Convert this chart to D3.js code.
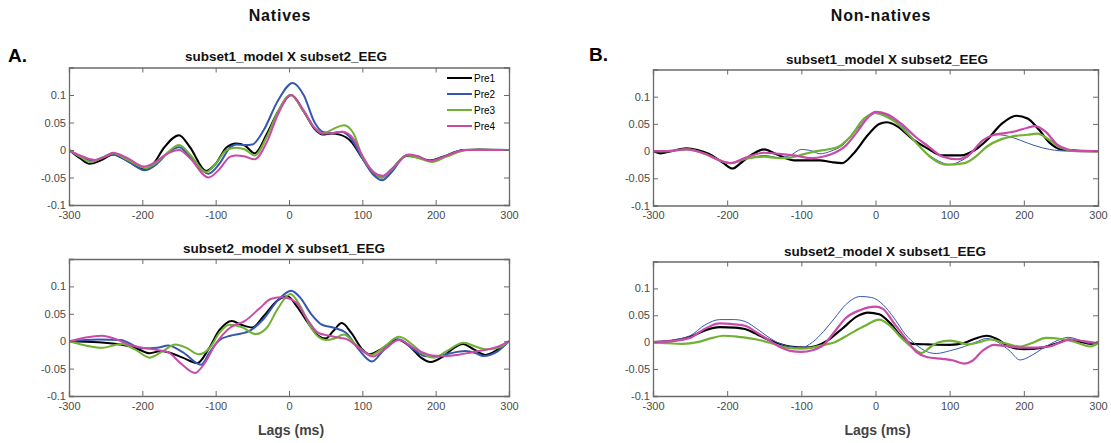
<!DOCTYPE html>
<html>
<head>
<meta charset="utf-8">
<script src="https://cdn.jsdelivr.net/npm/d3@7"></script>
<style>
  html, body { margin: 0; padding: 0; background: #fff; }
  svg { display: block; }
  .tick-label { font-family: "Liberation Sans Narrow", "Arial Narrow", "Liberation Sans", Arial, sans-serif; font-size: 11px; fill: #4a4a4a; }
  .sub-title { font-family: "Liberation Sans", Arial, Helvetica, sans-serif; font-weight: bold; font-size: 13.5px; fill: #111; }
  .group-title { font-family: "Liberation Sans", Arial, Helvetica, sans-serif; font-weight: bold; font-size: 16px; letter-spacing: 0.8px; fill: #111; }
  .panel-letter { font-family: "Liberation Sans", Arial, Helvetica, sans-serif; font-weight: bold; font-size: 19px; fill: #000; }
  .x-title { font-family: "Liberation Sans", Arial, Helvetica, sans-serif; font-weight: bold; font-size: 14px; fill: #444; }
  .legend-label { font-family: "Liberation Sans Narrow", "Arial Narrow", "Liberation Sans", Arial, sans-serif; font-size: 10px; fill: #000; }
</style>
</head>
<body>
<svg id="chart" width="1111" height="443"></svg>
<script>
// Cross-correlation (model x EEG) as a function of lag, four pre-test sessions.
const seriesNames = ["Pre1", "Pre2", "Pre3", "Pre4"];
const seriesColors = ["#000000", "#3557b0", "#6fb132", "#c94aa9"];
const xTicks = [-300, -200, -100, 0, 100, 200, 300];
const yTicks = [-0.1, -0.05, 0, 0.05, 0.1];
const yTickLabels = ["-0.1", "-0.05", "0", "0.05", "0.1"];
const xTickLabels = ["-300", "-200", "-100", "0", "100", "200", "300"];
const groupTitles = ["Natives", "Non-natives"];
const panelLetters = ["A.", "B."];
const subTitles = ["subset1_model X subset2_EEG", "subset2_model X subset1_EEG"];

// Natives, subset1_model X subset2_EEG  — [lag (ms), r]
const natS1Pre1 = [[-300,0],[-285,-0.015],[-272,-0.025],[-255,-0.018],[-240,-0.008],[-220,-0.02],[-198,-0.035],[-185,-0.025],[-170,0.005],[-150,0.027],[-135,0.005],[-113,-0.038],[-100,-0.025],[-85,0.005],[-72,0.012],[-60,0.008],[-47,-0.006],[-30,0.03],[-15,0.07],[3,0.1],[20,0.07],[35,0.038],[46,0.028],[58,0.03],[69,0.028],[85,0.015],[100,-0.015],[115,-0.042],[126,-0.05],[140,-0.035],[160,-0.011],[175,-0.013],[192,-0.019],[210,-0.012],[238,0],[260,0.001],[300,0]];
const natS1Pre2 = [[-300,0],[-285,-0.012],[-268,-0.02],[-255,-0.014],[-240,-0.008],[-220,-0.02],[-197,-0.037],[-180,-0.025],[-165,-0.005],[-150,0.005],[-135,-0.012],[-110,-0.043],[-95,-0.025],[-80,0.005],[-72,0.01],[-60,0.009],[-50,0.01],[-35,0.035],[-15,0.09],[5,0.122],[20,0.1],[35,0.05],[46,0.033],[58,0.031],[72,0.033],[85,0.02],[100,-0.015],[115,-0.045],[127,-0.055],[140,-0.04],[160,-0.01],[175,-0.012],[192,-0.02],[210,-0.013],[240,0],[300,0]];
const natS1Pre3 = [[-300,0],[-285,-0.012],[-270,-0.022],[-255,-0.014],[-240,-0.006],[-220,-0.018],[-195,-0.033],[-180,-0.022],[-165,-0.004],[-150,0.009],[-135,-0.008],[-113,-0.04],[-100,-0.025],[-85,0],[-72,0.004],[-60,0.001],[-47,-0.01],[-30,0.025],[-15,0.07],[2,0.1],[20,0.07],[35,0.04],[46,0.03],[60,0.038],[75,0.045],[88,0.03],[100,-0.012],[115,-0.04],[126,-0.05],[140,-0.036],[160,-0.01],[175,-0.014],[195,-0.022],[215,-0.012],[245,0],[300,0]];
const natS1Pre4 = [[-300,0],[-285,-0.01],[-265,-0.018],[-250,-0.012],[-240,-0.005],[-220,-0.015],[-198,-0.03],[-185,-0.024],[-165,-0.006],[-150,0],[-135,-0.015],[-110,-0.05],[-95,-0.035],[-80,-0.012],[-72,-0.01],[-60,-0.012],[-47,-0.017],[-30,0.015],[-15,0.065],[3,0.1],[20,0.072],[35,0.04],[46,0.03],[60,0.031],[73,0.033],[88,0.02],[100,-0.01],[115,-0.04],[128,-0.047],[140,-0.035],[163,-0.008],[175,-0.011],[193,-0.02],[210,-0.013],[240,0],[300,0]];

// Natives, subset2_model X subset1_EEG
const natS2Pre1 = [[-300,0],[-260,-0.002],[-230,-0.006],[-210,-0.012],[-190,-0.022],[-175,-0.018],[-165,-0.02],[-145,-0.03],[-125,-0.04],[-110,-0.015],[-95,0.02],[-78,0.037],[-65,0.03],[-50,0.025],[-35,0.045],[-15,0.075],[-2,0.082],[10,0.065],[25,0.035],[40,0.01],[50,0.005],[60,0.018],[72,0.033],[85,0.015],[100,-0.015],[110,-0.024],[125,-0.015],[148,0.003],[165,-0.01],[180,-0.03],[193,-0.038],[210,-0.028],[225,-0.012],[237,-0.005],[252,-0.015],[268,-0.025],[285,-0.015],[300,0]];
const natS2Pre2 = [[-300,0],[-260,0.003],[-230,0.002],[-200,-0.013],[-180,-0.012],[-165,-0.008],[-145,-0.02],[-120,-0.043],[-108,-0.02],[-95,0.002],[-80,0.01],[-65,0.014],[-55,0.018],[-35,0.04],[-15,0.075],[3,0.092],[15,0.08],[30,0.05],[45,0.03],[60,0.025],[78,0.015],[95,-0.015],[113,-0.037],[130,-0.015],[150,0.003],[170,-0.015],[185,-0.027],[200,-0.028],[220,-0.022],[240,-0.018],[255,-0.022],[265,-0.027],[285,-0.018],[300,0]];
const natS2Pre3 = [[-300,0],[-280,-0.007],[-255,-0.012],[-228,-0.005],[-210,-0.015],[-190,-0.03],[-172,-0.018],[-155,-0.006],[-140,-0.012],[-123,-0.024],[-108,-0.012],[-95,0.015],[-82,0.03],[-65,0.026],[-45,0.013],[-30,0.025],[-15,0.06],[2,0.086],[15,0.065],[30,0.025],[40,0.008],[50,0.002],[62,0.005],[75,0.012],[90,-0.005],[112,-0.025],[130,-0.01],[150,0.008],[170,-0.008],[185,-0.025],[198,-0.03],[215,-0.018],[238,-0.003],[255,-0.01],[270,-0.015],[285,-0.012],[300,0]];
const natS2Pre4 = [[-300,0],[-280,0.006],[-255,0.01],[-235,0.003],[-215,-0.008],[-200,-0.012],[-180,-0.016],[-165,-0.02],[-148,-0.04],[-128,-0.058],[-115,-0.04],[-100,-0.005],[-80,0.025],[-60,0.037],[-40,0.06],[-25,0.077],[-12,0.08],[0,0.078],[10,0.07],[25,0.04],[40,0.015],[55,0.01],[70,0.006],[80,0.003],[95,-0.012],[115,-0.028],[130,-0.015],[150,0.002],[170,-0.012],[185,-0.022],[195,-0.026],[215,-0.027],[230,-0.025],[250,-0.02],[270,-0.015],[285,-0.01],[300,0]];

// Non-natives, subset1_model X subset2_EEG
const nonS1Pre1 = [[-300,0],[-290,-0.004],[-275,0],[-255,0.005],[-240,0.002],[-225,-0.005],[-205,-0.022],[-193,-0.032],[-180,-0.02],[-165,-0.005],[-150,0.003],[-135,-0.005],[-110,-0.017],[-90,-0.017],[-75,-0.017],[-60,-0.02],[-45,-0.022],[-30,-0.005],[-10,0.03],[5,0.05],[15,0.053],[30,0.045],[50,0.022],[70,0.005],[90,-0.008],[115,-0.008],[135,0.003],[150,0.02],[170,0.05],[190,0.065],[205,0.06],[220,0.04],[235,0.015],[250,0.003],[270,0.001],[300,0]];
const nonS1Pre2 = [[-300,0],[-280,0],[-255,0.003],[-230,-0.005],[-210,-0.018],[-195,-0.022],[-175,-0.015],[-150,-0.008],[-130,-0.012],[-115,-0.008],[-100,0.003],[-85,0],[-75,-0.005],[-60,0],[-45,0.01],[-25,0.04],[-10,0.062],[2,0.07],[15,0.065],[40,0.04],[55,0.015],[70,-0.005],[85,-0.018],[100,-0.025],[115,-0.018],[125,-0.01],[145,0.02],[165,0.03],[180,0.027],[195,0.02],[215,0.01],[235,0.003],[260,0],[300,0]];
const nonS1Pre3 = [[-300,0],[-280,0],[-255,0.003],[-230,-0.005],[-210,-0.017],[-195,-0.022],[-175,-0.014],[-150,-0.01],[-130,-0.013],[-115,-0.012],[-95,-0.005],[-80,0],[-65,0.003],[-50,0.008],[-35,0.025],[-15,0.06],[-2,0.07],[15,0.063],[30,0.05],[45,0.03],[60,0.008],[75,-0.012],[95,-0.025],[120,-0.022],[135,-0.01],[150,0.008],[170,0.022],[185,0.027],[205,0.03],[218,0.032],[235,0.02],[250,0.006],[270,0],[300,0]];
const nonS1Pre4 = [[-300,0],[-280,0],[-255,0.003],[-230,-0.005],[-210,-0.017],[-195,-0.022],[-175,-0.012],[-150,-0.003],[-130,-0.005],[-110,-0.008],[-85,-0.013],[-70,-0.01],[-55,-0.003],[-40,0.01],[-25,0.035],[-10,0.062],[0,0.072],[15,0.068],[35,0.05],[55,0.025],[70,0.01],[90,-0.01],[110,-0.015],[125,-0.008],[145,0.02],[160,0.03],[175,0.033],[190,0.037],[205,0.043],[215,0.046],[230,0.035],[245,0.012],[260,0.003],[275,0],[300,0]];

// Non-natives, subset2_model X subset1_EEG
const nonS2Pre1 = [[-300,0],[-275,0.002],[-250,0.01],[-230,0.022],[-210,0.028],[-190,0.027],[-175,0.024],[-160,0.015],[-145,0.005],[-130,-0.003],[-115,-0.008],[-95,-0.01],[-80,-0.007],[-65,0.003],[-45,0.025],[-25,0.048],[-10,0.055],[5,0.052],[20,0.035],[35,0.01],[50,-0.003],[70,-0.004],[100,-0.005],[120,-0.001],[135,0.007],[150,0.012],[165,0.005],[180,-0.008],[200,-0.013],[225,-0.01],[245,-0.002],[260,0.005],[275,0.001],[290,-0.003],[300,0]];
const nonS2Pre2 = [[-300,0],[-275,0.004],[-250,0.012],[-230,0.032],[-210,0.042],[-190,0.042],[-175,0.038],[-160,0.025],[-145,0.01],[-130,-0.002],[-115,-0.008],[-100,-0.01],[-85,0],[-70,0.02],[-55,0.045],[-40,0.07],[-20,0.085],[-5,0.083],[10,0.07],[25,0.045],[40,0.015],[55,-0.005],[70,-0.018],[82,-0.021],[100,-0.016],[120,-0.008],[135,0],[150,0.007],[165,0],[180,-0.015],[195,-0.033],[210,-0.025],[225,-0.012],[245,0.003],[260,0.009],[275,0.004],[290,-0.003],[300,0]];
const nonS2Pre3 = [[-300,0],[-280,-0.002],[-260,-0.003],[-240,0],[-220,0.008],[-205,0.012],[-185,0.01],[-160,0.005],[-140,-0.002],[-120,-0.01],[-100,-0.012],[-85,-0.01],[-70,-0.005],[-55,0],[-35,0.015],[-15,0.03],[5,0.042],[20,0.03],[35,0.008],[50,-0.01],[62,-0.02],[75,-0.008],[85,0],[100,0.003],[112,0],[125,-0.004],[140,0],[155,0.005],[175,-0.002],[195,-0.008],[210,-0.002],[230,0.008],[250,0.006],[265,0.002],[290,-0.008],[300,-0.002]];
const nonS2Pre4 = [[-300,0],[-275,0.002],[-250,0.008],[-230,0.025],[-210,0.035],[-190,0.033],[-175,0.03],[-160,0.018],[-145,0.005],[-130,-0.008],[-115,-0.016],[-100,-0.018],[-85,-0.015],[-70,-0.005],[-55,0.02],[-40,0.045],[-20,0.06],[0,0.066],[10,0.062],[25,0.035],[40,0.008],[55,-0.018],[70,-0.028],[90,-0.031],[105,-0.034],[120,-0.04],[130,-0.035],[145,-0.015],[160,-0.005],[175,-0.007],[195,-0.01],[215,-0.01],[235,-0.008],[250,0],[265,0.005],[280,0.002],[300,-0.002]];

const svg = d3.select("#chart");

const panels = [
  { box: [69, 509, 67.5, 205], series: [natS1Pre1, natS1Pre2, natS1Pre3, natS1Pre4], widths: [2, 2, 2, 2], title: subTitles[0], titleX: 286, titleY: 61, legend: true },
  { box: [69, 509, 259, 396], series: [natS2Pre1, natS2Pre2, natS2Pre3, natS2Pre4], widths: [2, 2, 2, 2], title: subTitles[1], titleX: 284, titleY: 253, xTitle: true },
  { box: [653, 1098, 69.5, 205.5], series: [nonS1Pre1, nonS1Pre2, nonS1Pre3, nonS1Pre4], widths: [2.2, 1, 2.2, 2.2], title: subTitles[0], titleX: 887, titleY: 64 },
  { box: [653, 1098, 261.5, 396], series: [nonS2Pre1, nonS2Pre2, nonS2Pre3, nonS2Pre4], widths: [2.2, 1, 2.2, 2.2], title: subTitles[1], titleX: 885, titleY: 256, xTitle: true }
];

// Group headings and panel letters
svg.append("text").attr("class", "group-title").attr("x", 280).attr("y", 21).attr("text-anchor", "middle").text(groupTitles[0]);
svg.append("text").attr("class", "group-title").attr("x", 881).attr("y", 21).attr("text-anchor", "middle").text(groupTitles[1]);
svg.append("text").attr("class", "panel-letter").attr("x", 8).attr("y", 62).text(panelLetters[0]);
svg.append("text").attr("class", "panel-letter").attr("x", 589).attr("y", 61).text(panelLetters[1]);

const axisColor = "#6b6b6b";

panels.forEach((p) => {
  const [x0, x1, y0, y1] = p.box;
  const x = d3.scaleLinear().domain([-300, 300]).range([x0, x1]);
  const y = d3.scaleLinear().domain([-0.1, 0.15]).range([y1, y0]);
  const g = svg.append("g");

  const clipId = "clip" + Math.round(x0) + "_" + Math.round(y0);
  svg.append("clipPath").attr("id", clipId)
    .append("rect").attr("x", x0).attr("y", y0).attr("width", x1 - x0).attr("height", y1 - y0);

  // Curves
  const line = d3.line()
    .x(d => x(d[0]))
    .y(d => y(d[1]))
    .curve(d3.curveMonotoneX);
  const lines = g.append("g").attr("clip-path", `url(#${clipId})`);
  p.series.forEach((s, i) => {
    lines.append("path")
      .datum(s)
      .attr("fill", "none")
      .attr("stroke", seriesColors[i])
      .attr("stroke-width", p.widths[i])
      .attr("stroke-linejoin", "round")
      .attr("d", line);
  });

  // Box axes with inward ticks on all four sides
  const tickLen = 5;
  const axB = d3.axisBottom(x).tickValues(xTicks).tickSize(-tickLen).tickPadding(6)
    .tickFormat((d, i) => xTickLabels[i]);
  const axT = d3.axisTop(x).tickValues(xTicks).tickSize(-tickLen).tickFormat("");
  const axL = d3.axisLeft(y).tickValues(yTicks).tickSize(-tickLen).tickPadding(3)
    .tickFormat((d, i) => yTickLabels[i]);
  const axR = d3.axisRight(y).tickValues(yTicks).tickSize(-tickLen).tickFormat("");

  const styleAxis = (sel) => {
    sel.select(".domain").attr("stroke", axisColor).attr("stroke-width", 1.3);
    sel.selectAll(".tick line").attr("stroke", axisColor).attr("stroke-width", 1);
    sel.selectAll(".tick text").attr("class", "tick-label").attr("font-family", null).attr("font-size", null).attr("fill", null);
    sel.attr("font-family", null).attr("font-size", null);
  };

  g.append("g").attr("transform", `translate(0,${y1})`).call(axB).call(styleAxis);
  g.append("g").attr("transform", `translate(0,${y0})`).call(axT).call(styleAxis);
  g.append("g").attr("transform", `translate(${x0},0)`).call(axL).call(styleAxis);
  g.append("g").attr("transform", `translate(${x1},0)`).call(axR).call(styleAxis);

  // Subplot title
  svg.append("text").attr("class", "sub-title")
    .attr("x", p.titleX).attr("y", p.titleY).attr("text-anchor", "middle").text(p.title);

  if (p.xTitle) {
    svg.append("text").attr("class", "x-title")
      .attr("x", (x0 + x1) / 2 + 2).attr("y", 435).attr("text-anchor", "middle").text("Lags (ms)");
  }

  if (p.legend) {
    const lg = svg.append("g");
    const lx = 447, ly = 78, step = 16;
    seriesNames.forEach((name, i) => {
      lg.append("line")
        .attr("x1", lx).attr("x2", lx + 25)
        .attr("y1", ly + i * step).attr("y2", ly + i * step)
        .attr("stroke", seriesColors[i]).attr("stroke-width", 2);
      lg.append("text").attr("class", "legend-label")
        .attr("x", lx + 27).attr("y", ly + i * step + 3.5).text(name);
    });
  }
});
</script>
</body>
</html>
